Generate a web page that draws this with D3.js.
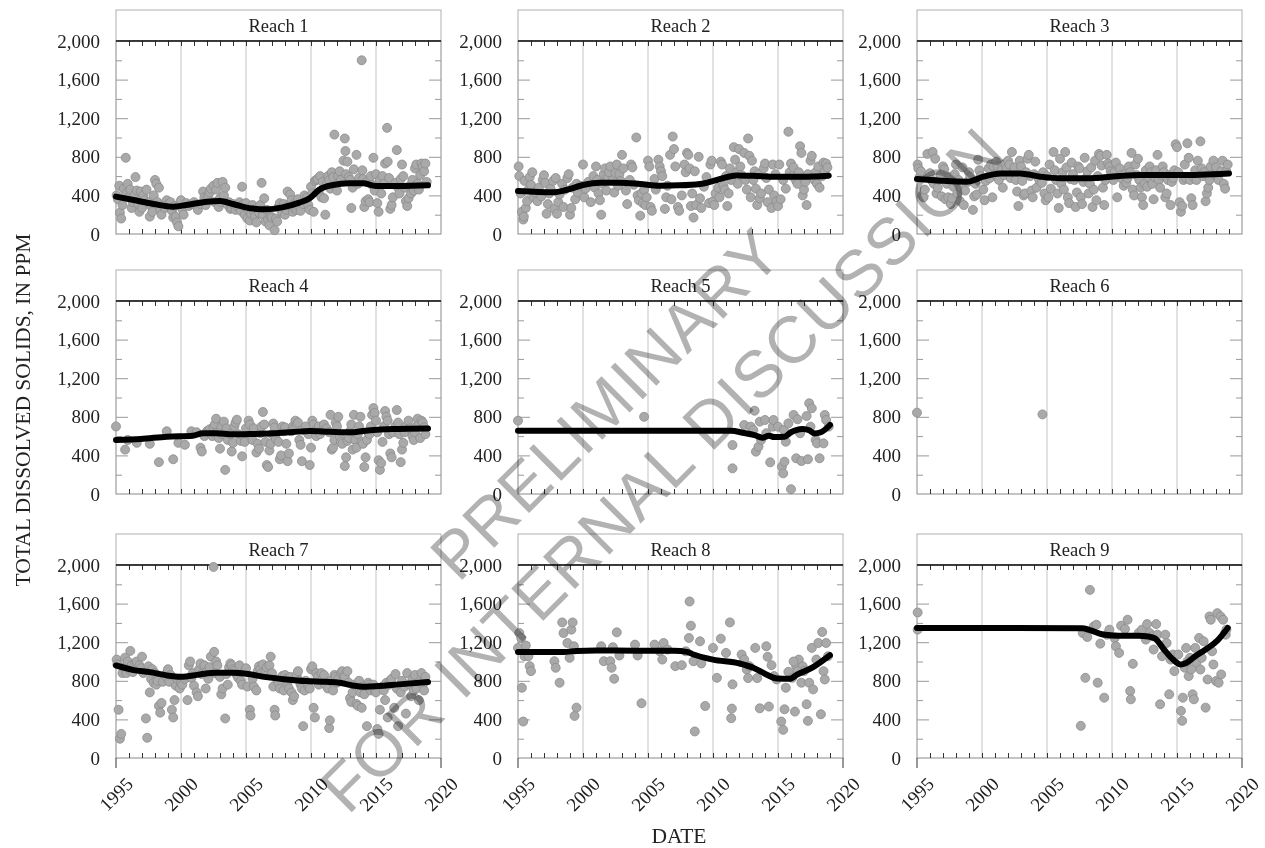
<!DOCTYPE html>
<html>
<head>
<meta charset="utf-8">
<script src="https://cdn.jsdelivr.net/npm/d3@7"></script>
<style>
  body { margin: 0; background: #fff; }
  svg { display: block; }
  text { font-family: "Liberation Serif", "Times New Roman", serif; fill: #222; }
</style>
</head>
<body>
<div id="wrapper"></div>
<script>
// panel titles and axis ticks
const reachNames = ["Reach 1", "Reach 2", "Reach 3", "Reach 4", "Reach 5", "Reach 6", "Reach 7", "Reach 8", "Reach 9"];
const yearTicks = [1995, 2000, 2005, 2010, 2015, 2020];
const valueTicks = [0, 400, 800, 1200, 1600, 2000];

// samples [decimal year, TDS ppm]
const reach1Points = [
  [1995.05,400],[1995.15,360],[1995.25,500],[1995.3,220],[1995.4,160],[1995.5,300],[1995.6,470],[1995.75,790],[1995.8,420],[1995.9,520],
  [1996.0,380],[1996.1,460],[1996.2,270],[1996.3,330],[1996.4,400],[1996.5,590],[1996.6,450],[1996.7,310],[1996.8,230],[1996.9,440],
  [1997.0,270],[1997.1,400],[1997.2,350],[1997.35,460],[1997.5,330],[1997.6,180],[1997.7,290],[1997.8,230],[1997.9,400],
  [1998.0,560],[1998.1,520],[1998.2,330],[1998.3,480],[1998.4,250],[1998.5,200],[1998.6,300],[1998.75,270],[1998.9,350],
  [1999.0,310],[1999.2,330],[1999.3,240],[1999.4,170],[1999.5,290],[1999.6,180],[1999.7,120],[1999.8,80],[1999.9,300],
  [2000.0,350],[2000.1,260],[2000.2,200],[2000.4,320],[2000.6,290],[2000.8,310],
  [2001.0,330],[2001.2,290],[2001.3,250],[2001.5,310],[2001.7,440],[2001.8,380],[2001.9,300],
  [2002.0,360],[2002.1,400],[2002.2,430],[2002.3,470],[2002.5,500],[2002.6,330],[2002.7,460],[2002.8,530],[2002.9,280],
  [2003.0,370],[2003.1,330],[2003.2,540],[2003.3,400],[2003.4,480],[2003.6,300],[2003.7,330],[2003.8,260],[2003.9,270],
  [2004.0,310],[2004.2,250],[2004.3,290],[2004.5,330],[2004.6,240],[2004.7,490],[2004.8,310],[2004.9,200],
  [2005.0,320],[2005.1,160],[2005.2,250],[2005.3,140],[2005.4,210],[2005.5,300],[2005.6,240],[2005.7,180],[2005.8,120],[2005.9,270],
  [2006.0,220],[2006.1,300],[2006.2,530],[2006.3,200],[2006.4,370],[2006.5,130],[2006.6,250],[2006.7,150],[2006.8,90],[2006.9,180],
  [2007.0,170],[2007.2,40],[2007.3,160],[2007.4,130],[2007.5,280],[2007.6,320],[2007.7,250],[2007.8,220],[2007.9,310],
  [2008.0,200],[2008.1,250],[2008.2,440],[2008.3,300],[2008.4,410],[2008.5,350],[2008.6,230],[2008.7,270],[2008.8,320],[2008.9,250],
  [2009.0,360],[2009.1,280],[2009.2,240],[2009.4,310],[2009.5,400],[2009.7,380],[2009.8,300],[2009.9,250],
  [2010.0,490],[2010.1,420],[2010.2,230],[2010.3,550],[2010.4,560],[2010.5,570],[2010.6,430],[2010.7,600],[2010.8,380],[2010.9,540],
  [2011.0,370],[2011.1,200],[2011.2,520],[2011.3,600],[2011.4,560],[2011.5,470],[2011.6,640],[2011.7,590],[2011.8,1030],[2011.9,500],
  [2012.0,450],[2012.1,600],[2012.2,650],[2012.3,560],[2012.5,760],[2012.6,990],[2012.65,860],[2012.7,620],[2012.8,750],[2012.9,590],
  [2013.0,560],[2013.1,270],[2013.2,480],[2013.3,670],[2013.5,820],[2013.6,520],[2013.7,580],[2013.9,1800],[2013.95,660],
  [2014.0,570],[2014.1,280],[2014.2,340],[2014.3,540],[2014.4,360],[2014.5,330],[2014.6,600],[2014.7,510],[2014.8,790],[2014.9,450],
  [2015.0,620],[2015.1,320],[2015.2,230],[2015.3,560],[2015.4,420],[2015.5,600],[2015.6,520],[2015.7,730],[2015.85,1100],[2015.9,750],
  [2016.0,580],[2016.1,260],[2016.2,300],[2016.3,380],[2016.5,530],[2016.6,870],[2016.7,480],[2016.8,420],[2016.9,570],
  [2017.0,720],[2017.1,600],[2017.2,480],[2017.3,340],[2017.4,290],[2017.5,370],[2017.6,500],[2017.7,420],[2017.8,560],[2017.9,450],
  [2018.0,680],[2018.1,720],[2018.2,520],[2018.3,460],[2018.4,610],[2018.5,730],[2018.6,700],[2018.7,650],[2018.8,730],[2018.9,540]
];
const reach2Points = [
  [1995.05,700],[1995.1,600],[1995.2,420],[1995.3,230],[1995.4,150],[1995.45,180],[1995.5,550],[1995.6,270],[1995.7,340],[1995.8,460],[1995.9,590],
  [1996.0,510],[1996.1,640],[1996.2,380],[1996.3,430],[1996.5,340],[1996.6,480],[1996.8,390],[1996.9,560],
  [1997.0,610],[1997.1,530],[1997.2,210],[1997.3,310],[1997.4,420],[1997.5,470],[1997.7,550],[1997.8,260],[1997.9,580],
  [1998.0,210],[1998.1,330],[1998.2,410],[1998.4,520],[1998.5,280],[1998.6,460],[1998.8,580],[1998.9,620],
  [1999.0,200],[1999.1,270],[1999.2,480],[1999.4,360],[1999.5,520],[1999.6,430],[1999.8,500],
  [2000.0,720],[2000.1,380],[2000.2,470],[2000.4,540],[2000.6,330],[2000.8,600],[2000.9,480],
  [2001.0,700],[2001.1,560],[2001.2,420],[2001.3,350],[2001.4,200],[2001.5,520],[2001.6,620],[2001.7,680],[2001.8,450],[2001.9,580],
  [2002.0,640],[2002.1,700],[2002.3,560],[2002.4,430],[2002.5,630],[2002.6,720],[2002.7,500],[2002.8,620],[2002.9,550],
  [2003.0,820],[2003.1,680],[2003.3,450],[2003.4,310],[2003.6,560],[2003.7,720],[2003.8,690],[2003.9,510],
  [2004.1,1000],[2004.2,400],[2004.3,350],[2004.4,190],[2004.5,420],[2004.6,320],[2004.7,460],[2004.8,300],[2004.9,380],
  [2005.0,760],[2005.1,700],[2005.2,280],[2005.3,240],[2005.5,570],[2005.6,460],[2005.8,770],[2005.9,700],
  [2006.0,650],[2006.1,600],[2006.3,260],[2006.4,380],[2006.5,500],[2006.7,820],[2006.8,360],[2006.9,1010],
  [2007.0,880],[2007.1,700],[2007.3,280],[2007.4,240],[2007.6,400],[2007.8,720],[2007.9,640],
  [2008.0,840],[2008.1,820],[2008.2,680],[2008.3,290],[2008.4,420],[2008.5,170],[2008.6,650],[2008.7,300],[2008.9,800],
  [2009.0,370],[2009.1,270],[2009.3,490],[2009.5,590],[2009.7,320],[2009.8,720],[2009.9,760],
  [2010.0,340],[2010.1,300],[2010.2,420],[2010.4,480],[2010.5,380],[2010.6,750],[2010.7,720],[2010.8,500],[2010.9,460],
  [2011.0,600],[2011.1,290],[2011.2,420],[2011.3,680],[2011.4,560],[2011.6,900],[2011.7,770],[2011.8,640],[2011.9,520],
  [2012.0,880],[2012.1,700],[2012.2,610],[2012.4,840],[2012.5,560],[2012.6,460],[2012.7,990],[2012.8,810],[2012.9,380],
  [2013.0,760],[2013.1,560],[2013.2,650],[2013.3,470],[2013.4,300],[2013.5,620],[2013.6,370],[2013.7,420],[2013.9,680],
  [2014.0,730],[2014.1,580],[2014.2,330],[2014.3,460],[2014.5,270],[2014.6,720],[2014.7,400],[2014.8,620],[2014.9,340],
  [2015.0,290],[2015.1,720],[2015.2,360],[2015.4,560],[2015.6,470],[2015.8,1060],[2015.9,640],
  [2016.0,730],[2016.1,600],[2016.2,690],[2016.4,550],[2016.5,520],[2016.6,640],[2016.7,910],[2016.8,840],[2016.9,400],
  [2017.0,460],[2017.1,540],[2017.2,300],[2017.3,620],[2017.5,760],[2017.6,810],[2017.8,560],[2017.9,640],
  [2018.0,520],[2018.1,700],[2018.2,480],[2018.4,600],[2018.5,740],[2018.6,650],[2018.7,730],[2018.8,690]
];
const reach3Points = [
  [1995.05,720],[1995.1,680],[1995.2,590],[1995.3,650],[1995.4,400],[1995.5,380],[1995.6,460],[1995.8,830],[1995.9,600],
  [1996.0,630],[1996.1,560],[1996.2,850],[1996.3,520],[1996.4,780],[1996.5,420],[1996.6,480],[1996.7,560],[1996.8,610],[1996.9,390],
  [1997.0,700],[1997.1,670],[1997.2,360],[1997.3,520],[1997.4,380],[1997.5,590],[1997.6,310],[1997.7,370],[1997.8,490],[1997.9,620],
  [1998.0,720],[1998.1,420],[1998.2,560],[1998.3,340],[1998.4,480],[1998.5,690],[1998.6,300],[1998.7,450],[1998.9,540],
  [1999.0,640],[1999.1,590],[1999.3,250],[1999.4,390],[1999.5,520],[1999.6,410],[1999.7,770],[1999.8,660],[1999.9,600],
  [2000.1,460],[2000.2,350],[2000.3,550],[2000.5,680],[2000.6,580],[2000.7,720],[2000.8,380],[2000.9,700],
  [2001.0,620],[2001.1,750],[2001.2,700],[2001.3,560],[2001.5,660],[2001.6,480],[2001.7,610],[2001.8,730],[2001.9,680],
  [2002.0,760],[2002.1,720],[2002.2,580],[2002.3,850],[2002.4,640],[2002.5,690],[2002.6,560],[2002.7,440],[2002.8,290],[2002.9,760],
  [2003.0,700],[2003.1,550],[2003.2,400],[2003.3,420],[2003.4,640],[2003.5,780],[2003.6,820],[2003.7,600],[2003.8,450],[2003.9,380],
  [2004.0,620],[2004.1,750],[2004.2,480],[2004.3,600],[2004.4,560],[2004.6,530],[2004.7,640],[2004.8,420],[2004.9,350],
  [2005.0,600],[2005.1,380],[2005.2,720],[2005.3,470],[2005.5,850],[2005.6,660],[2005.7,560],[2005.8,420],[2005.9,270],
  [2006.0,780],[2006.1,520],[2006.2,640],[2006.3,460],[2006.4,850],[2006.5,690],[2006.6,380],[2006.7,320],[2006.8,570],[2006.9,740],
  [2007.0,620],[2007.1,560],[2007.2,280],[2007.3,430],[2007.4,700],[2007.5,680],[2007.6,380],[2007.7,310],[2007.8,540],[2007.9,790],
  [2008.0,580],[2008.1,650],[2008.2,420],[2008.3,520],[2008.4,690],[2008.5,280],[2008.6,460],[2008.7,760],[2008.8,350],[2008.9,600],
  [2009.0,830],[2009.1,810],[2009.2,710],[2009.3,480],[2009.4,300],[2009.5,560],[2009.6,820],[2009.7,730],[2009.8,700],[2009.9,650],
  [2010.0,620],[2010.1,560],[2010.2,640],[2010.3,740],[2010.4,380],[2010.6,680],[2010.7,610],[2010.8,570],[2010.9,500],
  [2011.0,620],[2011.1,530],[2011.2,580],[2011.3,700],[2011.4,640],[2011.5,840],[2011.6,460],[2011.7,400],[2011.8,720],[2011.9,610],
  [2012.0,780],[2012.1,560],[2012.2,480],[2012.3,380],[2012.4,300],[2012.5,520],[2012.6,660],[2012.7,490],[2012.8,590],[2012.9,700],
  [2013.0,640],[2013.1,520],[2013.2,360],[2013.3,590],[2013.4,660],[2013.5,820],[2013.6,560],[2013.7,480],[2013.8,610],[2013.9,700],
  [2014.0,640],[2014.1,380],[2014.2,420],[2014.3,560],[2014.4,610],[2014.5,300],[2014.6,540],[2014.7,580],[2014.8,660],[2014.9,930],
  [2015.0,900],[2015.1,640],[2015.2,330],[2015.3,230],[2015.4,290],[2015.5,560],[2015.6,720],[2015.7,580],[2015.8,940],[2015.9,790],
  [2016.0,560],[2016.1,370],[2016.2,300],[2016.3,590],[2016.4,660],[2016.5,560],[2016.6,760],[2016.8,960],[2016.9,680],
  [2017.0,600],[2017.1,640],[2017.2,340],[2017.3,420],[2017.4,480],[2017.5,560],[2017.6,700],[2017.8,760],[2017.9,620],
  [2018.0,690],[2018.1,600],[2018.2,560],[2018.4,650],[2018.5,760],[2018.6,520],[2018.7,470],[2018.8,650],[2018.9,720]
];
const reach4Points = [
  [1995.0,700],[1995.7,460],[1995.9,560],[1996.6,530],[1997.6,520],[1998.3,330],[1998.9,650],[1999.4,360],[1999.8,530],[2000.3,510],
  [2000.8,650],[2001.2,640],[2001.5,480],[2001.6,440],[2001.8,600],
  [2002.0,650],[2002.2,670],[2002.4,600],[2002.5,690],[2002.6,720],[2002.7,780],[2002.8,640],[2002.9,580],
  [2003.0,470],[2003.1,690],[2003.2,620],[2003.3,750],[2003.4,250],[2003.5,680],[2003.6,560],[2003.8,620],[2003.9,440],
  [2004.0,530],[2004.1,700],[2004.2,740],[2004.3,770],[2004.4,620],[2004.6,550],[2004.7,390],[2004.8,600],[2004.9,540],
  [2005.0,680],[2005.2,760],[2005.3,720],[2005.4,610],[2005.5,560],[2005.6,680],[2005.8,430],[2005.9,520],
  [2006.0,470],[2006.1,630],[2006.2,700],[2006.3,850],[2006.4,720],[2006.5,540],[2006.6,300],[2006.7,280],[2006.8,450],[2006.9,520],
  [2007.0,620],[2007.1,730],[2007.2,690],[2007.3,570],[2007.5,540],[2007.6,360],[2007.7,400],[2007.8,700],[2007.9,650],
  [2008.0,690],[2008.1,520],[2008.2,340],[2008.3,420],[2008.5,650],[2008.6,700],[2008.7,680],[2008.8,760],[2008.9,720],
  [2009.0,740],[2009.1,560],[2009.2,510],[2009.3,340],[2009.5,660],[2009.6,700],[2009.8,620],[2009.9,300],
  [2010.0,480],[2010.1,760],[2010.2,720],[2010.3,650],[2010.4,600],[2010.6,700],[2010.7,620],[2010.9,660],
  [2011.0,720],[2011.2,680],[2011.4,640],[2011.5,820],[2011.6,460],[2011.7,480],[2011.8,560],[2011.9,740],
  [2012.0,700],[2012.1,800],[2012.2,600],[2012.3,540],[2012.4,520],[2012.6,290],[2012.7,380],[2012.8,550],[2012.9,580],
  [2013.0,650],[2013.1,720],[2013.2,460],[2013.3,820],[2013.4,560],[2013.5,480],[2013.6,620],[2013.7,700],[2013.8,800],[2013.9,540],
  [2014.0,520],[2014.1,280],[2014.2,380],[2014.3,560],[2014.4,640],[2014.5,620],[2014.6,700],[2014.7,820],[2014.8,890],[2014.9,840],
  [2015.0,760],[2015.1,640],[2015.2,350],[2015.3,250],[2015.4,320],[2015.5,540],[2015.6,700],[2015.7,860],[2015.8,800],[2015.9,760],
  [2016.0,620],[2016.1,420],[2016.2,380],[2016.3,640],[2016.5,700],[2016.6,870],[2016.7,740],[2016.8,620],[2016.9,330],
  [2017.0,460],[2017.1,530],[2017.2,640],[2017.3,700],[2017.5,760],[2017.6,680],[2017.8,600],[2017.9,560],
  [2018.0,640],[2018.1,700],[2018.2,780],[2018.3,720],[2018.4,580],[2018.5,760],[2018.6,740],[2018.7,690],[2018.8,620]
];
const reach5Points = [
  [1995.0,760],[2004.7,800],
  [2011.5,507],[2011.5,266],[2012.4,715],[2012.9,698],[2013.1,663],[2013.2,863],[2013.3,439],[2013.5,490],[2013.6,750],[2013.7,560],
  [2014.0,767],[2014.1,630],[2014.4,328],[2014.6,698],[2014.65,767],[2015.0,698],[2015.3,283],[2015.4,214],[2015.45,663],[2015.5,335],
  [2015.6,542],[2015.8,732],[2016.0,50],[2016.2,819],[2016.4,370],[2016.5,774],[2016.7,630],[2016.8,342],[2017.2,808],[2017.3,360],
  [2017.4,940],[2017.5,698],[2017.6,888],[2017.9,560],[2018.0,525],[2018.2,370],[2018.5,525],[2018.6,819],[2018.7,767],[2018.9,698]
];
const reach6Points = [[1995.0,843],[2004.65,825]];
const reach7Points = [
  [1995.05,1020],[1995.1,970],[1995.2,500],[1995.3,200],[1995.4,250],[1995.5,880],[1995.6,940],[1995.7,1040],[1995.8,880],[1995.9,1000],
  [1996.0,920],[1996.1,1110],[1996.2,960],[1996.3,890],[1996.5,990],[1996.6,1000],[1996.8,960],[1996.9,930],
  [1997.0,1050],[1997.1,880],[1997.3,410],[1997.4,210],[1997.5,950],[1997.6,680],[1997.7,820],[1997.8,920],[1997.9,780],
  [1998.0,880],[1998.1,760],[1998.2,800],[1998.3,540],[1998.4,470],[1998.5,570],[1998.6,790],[1998.8,850],[1998.9,880],
  [1999.0,920],[1999.1,790],[1999.2,860],[1999.3,500],[1999.4,420],[1999.5,600],[1999.6,750],[1999.7,820],[1999.9,720],
  [2000.0,780],[2000.1,760],[2000.3,820],[2000.5,600],[2000.6,960],[2000.7,1000],[2000.8,830],[2000.9,880],
  [2001.0,750],[2001.2,680],[2001.3,640],[2001.4,920],[2001.5,980],[2001.6,870],[2001.8,960],[2001.9,720],
  [2002.0,900],[2002.1,820],[2002.2,940],[2002.3,1050],[2002.5,1980],[2002.55,1100],[2002.6,880],[2002.7,1000],[2002.8,960],
  [2003.0,840],[2003.1,660],[2003.2,720],[2003.4,410],[2003.5,870],[2003.6,760],[2003.7,940],[2003.8,980],[2003.9,960],
  [2004.0,920],[2004.1,900],[2004.3,860],[2004.4,830],[2004.5,960],[2004.6,800],[2004.7,760],[2004.9,900],
  [2005.0,930],[2005.1,740],[2005.3,500],[2005.35,440],[2005.5,820],[2005.6,740],[2005.8,700],[2005.9,900],
  [2006.0,950],[2006.1,920],[2006.2,880],[2006.3,970],[2006.5,900],[2006.6,940],[2006.8,960],[2006.9,1050],
  [2007.0,880],[2007.1,740],[2007.2,500],[2007.25,440],[2007.4,810],[2007.5,780],[2007.6,720],[2007.8,850],[2007.9,700],
  [2008.0,860],[2008.1,820],[2008.2,780],[2008.3,720],[2008.4,840],[2008.5,680],[2008.6,600],[2008.7,640],[2008.9,860],
  [2009.0,900],[2009.1,800],[2009.2,760],[2009.3,720],[2009.4,330],[2009.5,700],[2009.6,800],[2009.8,740],[2009.9,720],
  [2010.0,920],[2010.1,950],[2010.2,520],[2010.3,420],[2010.4,880],[2010.5,840],[2010.6,760],[2010.8,880],[2010.9,820],
  [2011.0,860],[2011.1,760],[2011.3,720],[2011.4,310],[2011.45,390],[2011.5,800],[2011.7,700],[2011.8,860],[2011.9,840],
  [2012.0,780],[2012.1,820],[2012.3,880],[2012.4,900],[2012.5,850],[2012.6,840],[2012.8,900],[2012.9,780],
  [2013.0,620],[2013.1,580],[2013.2,680],[2013.3,760],[2013.5,560],[2013.6,540],[2013.7,800],[2013.8,680],[2013.9,520],
  [2014.0,740],[2014.1,660],[2014.3,330],[2014.4,780],[2014.5,760],[2014.6,700],[2014.8,760],[2014.9,700],
  [2015.0,680],[2015.1,300],[2015.2,250],[2015.3,500],[2015.5,740],[2015.6,700],[2015.7,600],[2015.8,780],[2015.9,420],
  [2016.0,760],[2016.1,800],[2016.2,820],[2016.4,520],[2016.5,870],[2016.6,720],[2016.7,330],[2016.9,680],
  [2017.0,800],[2017.2,740],[2017.3,460],[2017.4,880],[2017.6,760],[2017.7,640],[2017.8,820],[2017.9,700],
  [2018.0,860],[2018.1,720],[2018.3,600],[2018.4,800],[2018.5,880],[2018.6,760],[2018.7,700],[2018.8,840]
];
const reach8Points = [
  [1995.0,1141],[1995.1,1295],[1995.25,1244],[1995.3,728],[1995.4,378],[1995.5,1055],[1995.6,1165],[1995.8,1055],[1995.9,952],[1996.0,900],
  [1997.8,1003],[1997.9,935],[1998.2,780],[1998.4,1405],[1998.5,1295],[1998.8,1192],[1998.97,1038],[1999.1,1330],[1999.2,1405],[1999.3,1158],
  [1999.35,436],[1999.5,522],[2001.4,1158],[2001.6,1003],[2002.1,1003],[2002.2,935],[2002.3,1148],[2002.4,821],[2002.6,1302],[2002.8,1062],
  [2004.0,1175],[2004.2,1062],[2004.5,567],[2005.5,1175],[2005.9,1106],[2006.1,1020],[2006.2,1192],[2006.5,1124],[2007.1,952],[2007.6,962],
  [2007.9,1106],[2008.2,1622],[2008.3,1371],[2008.15,1244],[2008.5,1003],[2008.6,275],[2009.0,1209],[2009.1,979],[2009.4,539],[2010.0,1141],
  [2010.3,831],[2010.6,1237],[2011.0,1089],[2011.3,1405],[2011.5,763],[2011.45,512],[2011.4,412],[2012.2,1072],[2012.4,1020],[2012.6,917],
  [2012.7,828],[2012.8,952],[2013.25,1141],[2013.4,828],[2013.6,515],[2014.1,1158],[2014.2,1048],[2014.3,533],[2014.5,962],[2014.7,849],
  [2014.9,814],[2015.25,378],[2015.4,292],[2015.5,505],[2015.6,728],[2015.8,893],[2016.1,831],[2016.3,481],[2016.4,952],[2016.6,1020],
  [2016.8,780],[2016.9,950],[2017.0,900],[2017.2,557],[2017.3,385],[2017.4,780],[2017.6,1141],[2017.7,711],[2017.95,1020],[2018.1,1192],
  [2018.3,453],[2018.4,1306],[2018.5,900],[2018.6,814],[2018.7,1192],[2018.85,1055],[2016.2,1000],[2016.5,900]
];
const reach9Points = [
  [1995.05,1508],[1995.05,1330],[2007.6,333],[2007.95,831],[2007.75,1295],[2008.1,1254],[2008.3,1742],[2008.6,1364],[2008.8,1381],[2008.9,780],
  [2009.1,1185],[2009.4,625],[2009.6,1278],[2009.8,1330],[2010.2,1244],[2010.3,1158],[2010.55,1089],[2010.7,1371],[2011.0,1337],[2011.2,1433],
  [2011.4,694],[2011.45,608],[2011.6,976],[2012.05,1295],[2012.3,1330],[2012.6,1227],[2012.7,1388],[2012.9,1295],[2013.1,1261],[2013.2,1124],
  [2013.4,1388],[2013.5,1278],[2013.7,557],[2013.85,1055],[2014.1,1278],[2014.2,1192],[2014.4,660],[2014.5,1020],[2014.7,1072],[2014.8,900],
  [2015.1,1072],[2015.3,488],[2015.4,385],[2015.45,625],[2015.6,935],[2015.7,1141],[2015.9,849],[2016.0,1038],[2016.2,660],[2016.3,608],
  [2016.4,1141],[2016.5,986],[2016.7,1244],[2016.8,917],[2016.9,1038],[2017.05,1209],[2017.2,522],[2017.35,814],[2017.5,1467],[2017.6,1433],
  [2017.7,1106],[2017.8,969],[2018.0,797],[2018.1,1501],[2018.2,780],[2018.35,1467],[2018.4,866],[2018.55,1433],[2018.7,1295],[2018.75,1278],
  [2018.8,1330],[2015.8,1000],[2016.1,920]
];

// smoothed trend lines [decimal year, TDS ppm]
const reach1Trend = [[1995,387],[1996.35,352],[1997.9,311],[1999.4,283],[2000.4,300],[2002,335],[2003,342],[2004,311],[2005.3,266],[2006.55,256],[2007.8,276],[2009.1,325],[2009.9,370],[2010.6,456],[2011.7,508],[2012.9,525],[2014,525],[2015,497],[2016.8,497],[2019,505]];
const reach2Trend = [[1995,445],[1997.7,432],[1998.7,456],[2000,508],[2001.3,532],[2002.8,532],[2004.4,518],[2005.9,501],[2007.4,504],[2009,518],[2010.3,560],[2011.8,605],[2013.1,604],[2014.4,594],[2015.6,594],[2016.9,594],[2018.9,604]];
const reach3Trend = [[1995,570],[1996.8,553],[1998.85,542],[2000.1,594],[2001.4,628],[2002.9,628],[2004.5,594],[2006,577],[2007.6,577],[2009.1,584],[2010.6,601],[2012.2,611],[2013.7,611],[2015.3,611],[2016.8,615],[2019,628]];
const reach4Trend = [[1995,560],[1996.9,570],[1998.9,594],[2000.9,604],[2001.7,630],[2002.7,629],[2004,618],[2005.5,622],[2007.1,629],[2008.6,642],[2009.9,653],[2011.4,646],[2012.9,639],[2014.2,656],[2016.25,674],[2019,680]];
const reach5Trend = [[1995,656],[2008,656],[2011.4,656],[2012.3,635],[2013.2,610],[2013.8,584],[2014.3,604],[2014.7,590],[2015.5,594],[2016,640],[2016.4,663],[2016.9,674],[2017.4,660],[2017.8,628],[2018.3,640],[2019,715]];
const reach6Trend = [];
const reach7Trend = [[1995,959],[1996.35,911],[1997.6,890],[1998.9,856],[2000,842],[2001.45,866],[2002.7,883],[2004,883],[2005,873],[2006.55,838],[2008.1,814],[2009.6,797],[2011.15,790],[2012.2,780],[2013.2,752],[2014.2,739],[2015.2,746],[2016.75,763],[2019,787]];
const reach8Trend = [[1995,1099],[1998.5,1099],[1999.5,1110],[2001,1115],[2004,1112],[2007,1112],[2008,1100],[2008.5,1072],[2010,1020],[2012.05,979],[2013.1,935],[2014.1,866],[2014.9,825],[2015.9,821],[2016.5,866],[2017.7,941],[2019,1065]];
const reach9Trend = [[1995,1347],[2007.7,1345],[2008.3,1325],[2009.3,1280],[2010.5,1268],[2012,1268],[2012.8,1260],[2013.3,1240],[2014,1124],[2014.7,1020],[2015.3,969],[2015.7,985],[2016.4,1055],[2017.2,1124],[2018.1,1216],[2018.9,1347]];

const allPoints = [reach1Points, reach2Points, reach3Points, reach4Points, reach5Points, reach6Points, reach7Points, reach8Points, reach9Points];
const allTrends = [reach1Trend, reach2Trend, reach3Trend, reach4Trend, reach5Trend, reach6Trend, reach7Trend, reach8Trend, reach9Trend];

// layout
const width = 1265, height = 848;
const colX = [116, 518, 917];
const rowTop = [41, 301, 565];
const plotW = 325, plotH = 193, stripH = 31;

const svg = d3.select("#wrapper").append("svg")
  .attr("width", width)
  .attr("height", height);

const x = d3.scaleLinear().domain([1995, 2020]).range([0, plotW]);
const y = d3.scaleLinear().domain([0, 2000]).range([plotH, 0]);

const line = d3.line()
  .x(d => x(d[0]))
  .y(d => y(d[1]))
  .curve(d3.curveMonotoneX);

reachNames.forEach((name, i) => {
  const col = i % 3, row = Math.floor(i / 3);
  const g = svg.append("g").attr("transform", `translate(${colX[col]},${rowTop[row]})`);

  // strip header
  g.append("rect")
    .attr("x", 0).attr("y", -stripH)
    .attr("width", plotW).attr("height", stripH)
    .attr("fill", "#fff").attr("stroke", "#b0b0b0");
  g.append("text")
    .attr("x", plotW / 2).attr("y", -stripH / 2)
    .attr("dy", "0.35em")
    .attr("text-anchor", "middle")
    .style("font-size", "18.5px")
    .text(name);

  // plot frame
  g.append("rect")
    .attr("width", plotW).attr("height", plotH)
    .attr("fill", "#fff").attr("stroke", "#8a8a8a");

  // vertical gridlines
  g.selectAll(".grid")
    .data(yearTicks.slice(1, -1))
    .join("line")
    .attr("x1", d => x(d)).attr("x2", d => x(d))
    .attr("y1", 0).attr("y2", plotH)
    .attr("stroke", "#c4c4c4");

  // year ticks, top and bottom, pointing inward
  const years = d3.range(1996, 2020);
  g.append("g")
    .call(d3.axisBottom(x).tickValues(years).tickSize(5).tickFormat(""))
    .call(a => a.select(".domain").remove())
    .selectAll("line").attr("stroke", "#333");
  g.append("g")
    .attr("transform", `translate(0,${plotH})`)
    .call(d3.axisTop(x).tickValues(years).tickSize(5).tickFormat(""))
    .call(a => a.select(".domain").remove())
    .selectAll("line").attr("stroke", "#333");

  // value ticks, left and right
  const minorVals = d3.range(200, 2000, 400);
  const majorVals = valueTicks.slice(1, -1);
  [[minorVals, 6], [majorVals, 12]].forEach(([vals, len]) => {
    g.append("g")
      .call(d3.axisRight(y).tickValues(vals).tickSize(len).tickFormat(""))
      .call(a => a.select(".domain").remove())
      .selectAll("line").attr("stroke", "#999");
    g.append("g")
      .attr("transform", `translate(${plotW},0)`)
      .call(d3.axisLeft(y).tickValues(vals).tickSize(len).tickFormat(""))
      .call(a => a.select(".domain").remove())
      .selectAll("line").attr("stroke", "#999");
  });

  // top border under strip
  g.append("line")
    .attr("x1", 0).attr("x2", plotW)
    .attr("y1", 0).attr("y2", 0)
    .attr("stroke", "#111").attr("stroke-width", 1.6);

  // y labels
  const yAxis = g.append("g")
    .call(d3.axisLeft(y).tickValues(valueTicks).tickSize(0).tickPadding(16).tickFormat(d3.format(",")));
  yAxis.select(".domain").remove();
  yAxis.selectAll("text")
    .style("font-family", "'Liberation Serif', serif")
    .style("font-size", "19px")
    .style("fill", "#222");

  // x labels only on the bottom row
  if (row === 2) {
    g.selectAll(".edge")
      .data([1995, 2020])
      .join("line")
      .attr("x1", d => x(d)).attr("x2", d => x(d))
      .attr("y1", plotH).attr("y2", plotH + 10)
      .attr("stroke", "#333");
    g.selectAll(".xlab")
      .data(yearTicks)
      .join("text")
      .attr("transform", d => `translate(${x(d)},${plotH + 36}) rotate(-45)`)
      .attr("text-anchor", "middle")
      .attr("dy", "0.35em")
      .style("font-size", "19px")
      .text(d => d);
  }

  // samples
  g.selectAll(".pt")
    .data(allPoints[i])
    .join("circle")
    .attr("cx", d => x(d[0]))
    .attr("cy", d => y(d[1]))
    .attr("r", 4.5)
    .attr("fill", "#a9a9a9")
    .attr("stroke", "#8c8c8c")
    .attr("stroke-width", 0.8);

  // trend
  if (allTrends[i].length) {
    g.append("path")
      .attr("d", line(allTrends[i]))
      .attr("fill", "none")
      .attr("stroke", "#000")
      .attr("stroke-width", 6)
      .attr("stroke-linecap", "round")
      .attr("stroke-linejoin", "round");
  }
});

// axis titles
svg.append("text")
  .attr("transform", "translate(30,410) rotate(-90)")
  .attr("text-anchor", "middle")
  .style("font-size", "21.5px")
  .text("TOTAL DISSOLVED SOLIDS, IN PPM");

svg.append("text")
  .attr("x", 679).attr("y", 843)
  .attr("text-anchor", "middle")
  .style("font-size", "21.5px")
  .text("DATE");

// watermark (style fill so it wins over the text rule)
const wm = svg.append("g")
  .style("mix-blend-mode", "multiply");
wm.append("text")
  .attr("transform", "translate(622,420) rotate(-45)")
  .attr("text-anchor", "middle")
  .style("font-family", "'Liberation Sans', Arial, sans-serif")
  .style("font-size", "66px")
  .style("letter-spacing", "1.5px")
  .style("fill", "#b2b2b2")
  .text("PRELIMINARY");
wm.append("text")
  .attr("transform", "translate(678,486) rotate(-45)")
  .attr("text-anchor", "middle")
  .style("font-family", "'Liberation Sans', Arial, sans-serif")
  .style("font-size", "66px")
  .style("letter-spacing", "1px")
  .style("fill", "#b2b2b2")
  .text("FOR INTERNAL DISCUSSION");
</script>
</body>
</html>
